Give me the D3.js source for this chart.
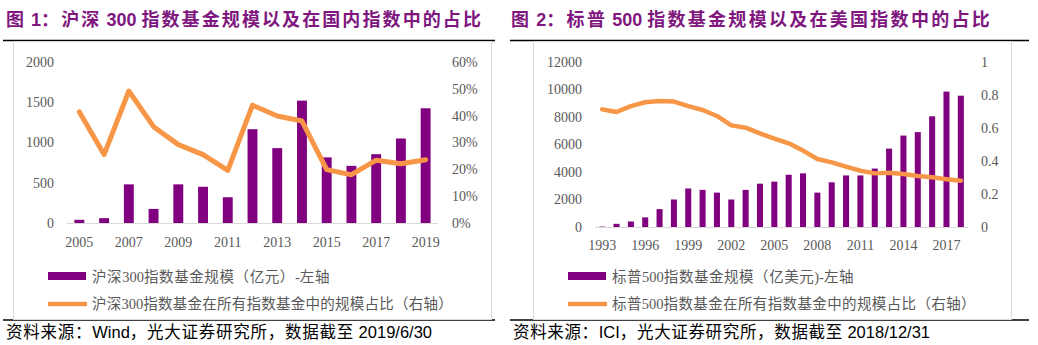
<!doctype html>
<html>
<head>
<meta charset="utf-8">
<script src="https://d3js.org/d3.v7.min.js"></script>
<style>
  body { margin:0; background:#fff; }
  .tick-label { font-family:'Liberation Serif','Noto Sans CJK SC'; font-size:14px; fill:#595959; }
  .legend-text { font-family:'Liberation Serif','Noto Sans CJK SC'; font-size:14.5px; fill:#595959; }
  .title { font-family:'Liberation Sans','Noto Sans CJK SC'; font-size:18px; font-weight:bold; fill:#80177f; }
  .source { font-family:'Liberation Sans','Noto Sans CJK SC'; font-size:16.5px; fill:#000; }
</style>
</head>
<body>
<script>

// ---- chart 1 : 沪深300
var years1 = [2005,2006,2007,2008,2009,2010,2011,2012,2013,2014,2015,2016,2017,2018,2019]
var size1  = [40,60,480,175,480,450,320,1165,930,1520,815,710,855,1050,1425]
var share1 = [0.414,0.255,0.492,0.359,0.292,0.255,0.196,0.439,0.399,0.380,0.199,0.180,0.234,0.221,0.236]
var leftTicks1  = [0,500,1000,1500,2000]
var rightTicks1 = [0,0.1,0.2,0.3,0.4,0.5,0.6]
var xTicks1 = [2005,2007,2009,2011,2013,2015,2017,2019]

// ---- chart 2 : 标普500
var years2 = [1993,1994,1995,1996,1997,1998,1999,2000,2001,2002,2003,2004,2005,2006,2007,2008,2009,2010,2011,2012,2013,2014,2015,2016,2017,2018]
var size2  = [30,230,400,700,1300,2000,2800,2700,2500,2000,2700,3150,3300,3800,3900,2500,3250,3750,3750,4250,5700,6650,6900,8050,9850,9550]
var share2 = [0.713,0.697,0.733,0.756,0.764,0.760,0.733,0.709,0.673,0.616,0.602,0.568,0.535,0.507,0.463,0.412,0.392,0.366,0.341,0.325,0.329,0.321,0.309,0.301,0.289,0.281]
var leftTicks2  = [0,2000,4000,6000,8000,10000,12000]
var rightTicks2 = [0,0.2,0.4,0.6,0.8,1]
var xTicks2 = [1993,1996,1999,2002,2005,2008,2011,2014,2017]

var purple = '#800080'
var orange = '#f79646'
var grid = '#d9d9d9'

var svg = d3.select("body").append("svg")
  .attr("width",1038)
  .attr("height",345);

// text where only the CJK runs get extra spacing, so the whole fits width w
function spacedText(g, cls, x, y, str, w) {
  var t = g.append("text").attr("class",cls).attr("x",x).attr("y",y).attr("dy","0.35em");
  var runs = str.match(/[\x00-\x7f]+|[^\x00-\x7f]+/g);
  var n = 0;
  runs.forEach(function(r){
    var s = t.append("tspan").text(r);
    if (/[^\x00-\x7f]/.test(r)) { s.classed("cjk",true); n += r.length; }
  });
  var natural = t.node().getComputedTextLength();
  var ls = Math.max(0,(w - natural)/n);
  t.selectAll("tspan.cjk").attr("letter-spacing",ls);
  return t;
}

function panel(o) {
  var g = svg.append("g");

  spacedText(g,"title",o.titleX,20,o.title,o.titleW);
  g.append("line").attr("x1",o.ruleX1).attr("x2",o.ruleX2).attr("y1",40.5).attr("y2",40.5)
    .attr("stroke","#000").attr("stroke-width",1.5);
  g.append("line").attr("x1",o.ruleX1).attr("x2",o.ruleX2).attr("y1",320).attr("y2",320)
    .attr("stroke","#000").attr("stroke-width",1.5);
  g.append("rect").attr("x",o.boxX1+0.5).attr("y",41.5)
    .attr("width",o.boxX2-o.boxX1).attr("height",278)
    .attr("fill","#fff").attr("stroke",grid);

  var x = d3.scaleBand().domain(o.years).range(o.xRange)
    .paddingInner(o.pad).paddingOuter(o.pad/2);
  var yL = d3.scaleLinear().domain(o.leftDomain).range([o.y0, 62]);
  var yR = d3.scaleLinear().domain(o.rightDomain).range([o.y0, 62]);

  g.append("line").attr("x1",o.xRange[0]).attr("x2",o.xRange[1])
    .attr("y1",o.y0+0.5).attr("y2",o.y0+0.5).attr("stroke",grid);

  g.selectAll(".bar").data(o.years).enter()
    .append("rect")
      .attr("class","bar")
      .attr("x",function(d){ return x(d); })
      .attr("width",x.bandwidth())
      .attr("y",function(d,i){ return yL(o.size[i]); })
      .attr("height",function(d,i){ return o.y0 - yL(o.size[i]); })
      .attr("fill",purple);

  var line = d3.line()
    .x(function(d,i){ return x(o.years[i]) + x.bandwidth()/2; })
    .y(function(d){ return yR(d); });
  g.append("path").datum(o.share)
    .attr("d",line)
    .attr("fill","none")
    .attr("stroke",orange)
    .attr("stroke-width",o.lw)
    .attr("stroke-linejoin","round")
    .attr("stroke-linecap","round");

  g.selectAll(".lt").data(o.leftTicks).enter()
    .append("text").attr("class","tick-label")
      .attr("x",o.leftX).attr("y",function(d){ return yL(d); })
      .attr("dy","0.35em").attr("text-anchor","end")
      .text(function(d){ return d; });
  g.selectAll(".rt").data(o.rightTicks).enter()
    .append("text").attr("class","tick-label")
      .attr("x",o.rightX).attr("y",function(d){ return yR(d); })
      .attr("dy","0.35em")
      .text(o.rightFmt);
  g.selectAll(".xt").data(o.xTicks).enter()
    .append("text").attr("class","tick-label")
      .attr("x",function(d){ return x(d) + x.bandwidth()/2; })
      .attr("y",o.xLabY).attr("dy","0.35em").attr("text-anchor","middle")
      .text(function(d){ return d; });

  // legend
  g.append("rect").attr("x",o.legX).attr("y",272).attr("width",38).attr("height",8).attr("fill",purple);
  g.append("line").attr("x1",o.legX).attr("x2",o.legX+39).attr("y1",304).attr("y2",304)
    .attr("stroke",orange).attr("stroke-width",4.5);
  spacedText(g,"legend-text",o.legX+44,277,o.leg1,o.leg1W);
  spacedText(g,"legend-text",o.legX+44,304,o.leg2,o.leg2W);

  spacedText(g,"source",o.srcX,332,o.source,o.srcW);
}

panel({
  title:"图 1：沪深 300 指数基金规模以及在国内指数中的占比", titleX:6, titleW:477,
  ruleX1:3, ruleX2:495, boxX1:13, boxX2:491,
  years:years1, size:size1, share:share1, pad:0.6, xRange:[67,438], y0:223,
  leftDomain:[0,2000], rightDomain:[0,0.6], lw:5,
  leftTicks:leftTicks1, rightTicks:rightTicks1, xTicks:xTicks1,
  leftX:54, rightX:452, xLabY:242,
  rightFmt:function(d){ return Math.round(d*100) + "%"; },
  legX:48, leg1:"沪深300指数基金规模（亿元）-左轴", leg1W:238,
  leg2:"沪深300指数基金在所有指数基金中的规模占比（右轴）", leg2W:361,
  srcX:6, srcW:426, source:"资料来源：Wind，光大证券研究所，数据截至 2019/6/30"
});

panel({
  title:"图 2：标普 500 指数基金规模以及在美国指数中的占比", titleX:511, titleW:481,
  ruleX1:510, ruleX2:1029, boxX1:533, boxX2:1011,
  years:years2, size:size2, share:share2, pad:0.58, xRange:[595,968], y0:227,
  leftDomain:[0,12000], rightDomain:[0,1], lw:4.5,
  leftTicks:leftTicks2, rightTicks:rightTicks2, xTicks:xTicks2,
  leftX:582, rightX:981, xLabY:245,
  rightFmt:function(d){ return d3.format("")(Math.round(d*10)/10); },
  legX:568, leg1:"标普500指数基金规模（亿美元)-左轴", leg1W:242,
  leg2:"标普500指数基金在所有指数基金中的规模占比（右轴）", leg2W:364,
  srcX:513, srcW:417, source:"资料来源：ICI，光大证券研究所，数据截至 2018/12/31"
});

</script>
</body>
</html>
